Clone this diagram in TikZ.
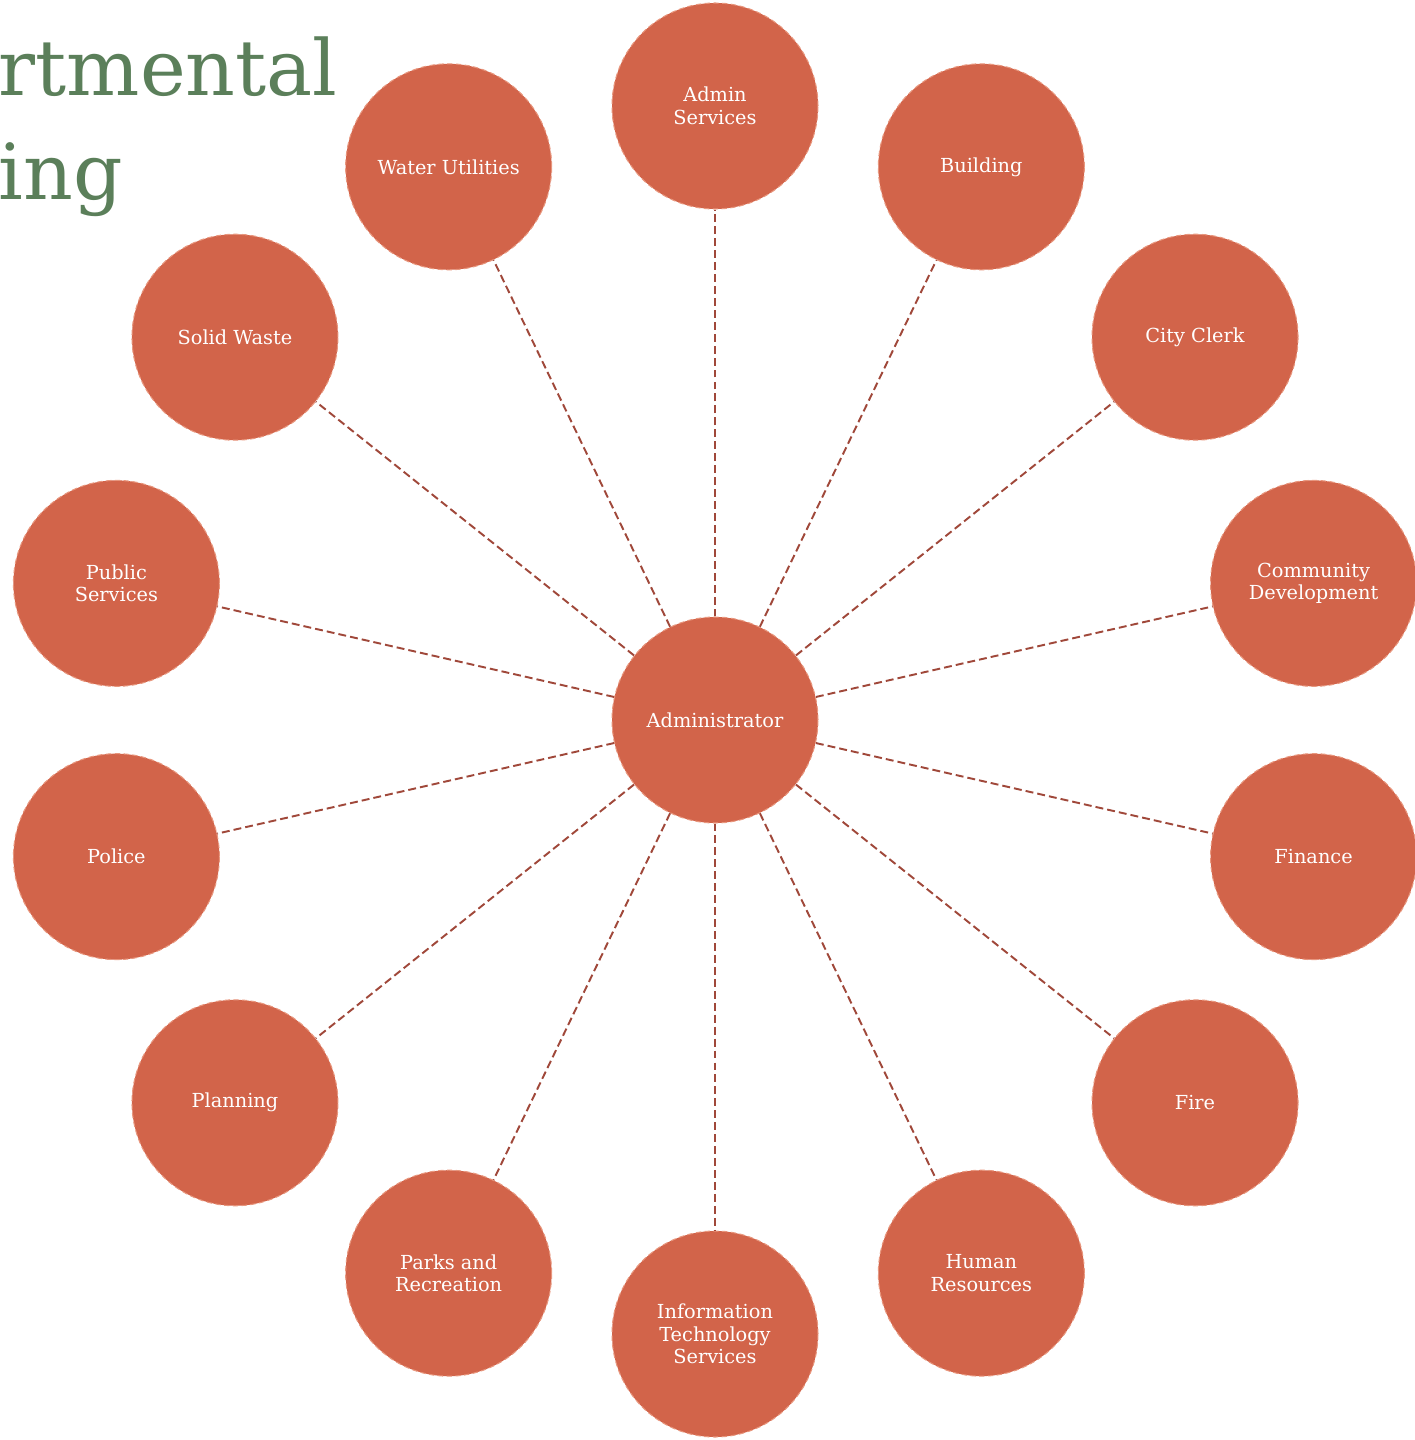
\documentclass[tikz,border=0pt]{standalone}
\usepackage{fontspec}
\setmainfont{DejaVu Serif}
\usetikzlibrary{positioning}
\definecolor{deptfill}{RGB}{210,100,74}
\definecolor{deptrim}{RGB}{232,150,125}
\definecolor{spoke}{RGB}{160,72,58}
\definecolor{ttl}{RGB}{91,127,90}

\begin{document}
\begin{tikzpicture}
  \tikzstyle{dept}=[circle,minimum size=4.12cm,inner sep=0pt,fill=deptfill,
    draw=deptrim,densely dashed,line width=0.6pt,text=white,align=center,
    font=\fontsize{11}{12.8}\selectfont]
  \tikzstyle{link}=[draw=spoke,dash pattern=on 4.5pt off 2.3pt,line width=1.1pt]
  \useasboundingbox (-14.3,-14.4) rectangle (13.98,14.4);

  % title, cut off at the left edge
  \node[anchor=base west,inner sep=0pt,align=left,text=ttl,
    font=\fontsize{44}{59.5}\selectfont] (title) at (-14.33,10.4) {rtmental\\ing};

  \node[dept] (adm) at (0,0) {Administrator};

  \node[dept] (asv) at (90:12.28) {Admin\\Services};
  \node[dept] (bld) at (64.29:12.28) {Building};
  \node[dept] (clk) at (38.57:12.28) {City Clerk};
  \node[dept] (cdv) at (12.86:12.28) {Community\\Development};
  \node[dept] (fin) at (-12.86:12.28) {Finance};
  \node[dept] (fir) at (-38.57:12.28) {Fire};
  \node[dept] (hr) at (-64.29:12.28) {Human\\Resources};
  \node[dept] (its) at (-90:12.28) {Information\\Technology\\Services};
  \node[dept] (prk) at (-115.71:12.28) {Parks and\\Recreation};
  \node[dept] (pln) at (-141.43:12.28) {Planning};
  \node[dept] (pol) at (-167.14:12.28) {Police};
  \node[dept] (pub) at (167.14:12.28) {Public\\Services};
  \node[dept] (sw) at (141.43:12.28) {Solid Waste};
  \node[dept] (wtr) at (115.71:12.28) {Water Utilities};

  \path[link]
  (adm) edge (asv)
  (adm) edge (bld)
  (adm) edge (clk)
  (adm) edge (cdv)
  (adm) edge (fin)
  (adm) edge (fir)
  (adm) edge (hr)
  (adm) edge (its)
  (adm) edge (prk)
  (adm) edge (pln)
  (adm) edge (pol)
  (adm) edge (pub)
  (adm) edge (sw)
  (adm) edge (wtr);
\end{tikzpicture}
\end{document}
